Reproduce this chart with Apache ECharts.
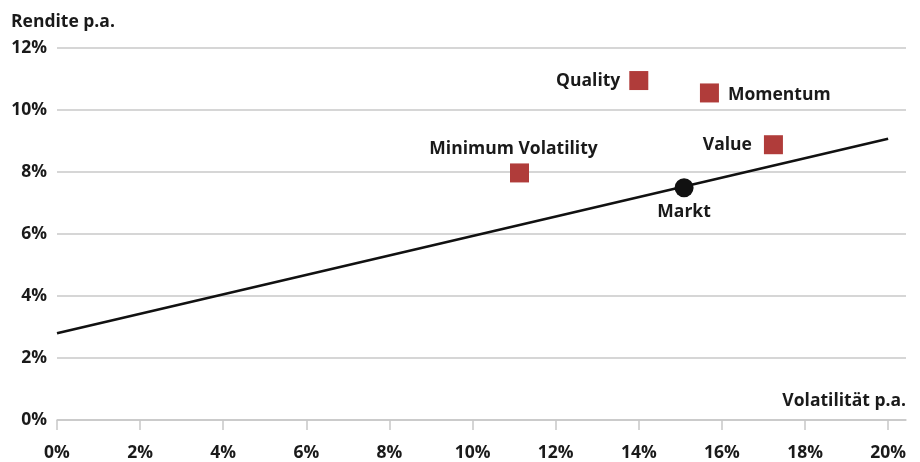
<!DOCTYPE html>
<html>
<head>
<meta charset="utf-8">
<script src="https://cdn.jsdelivr.net/npm/echarts@6/dist/echarts.min.js"></script>
<style>
  html, body { margin: 0; padding: 0; background: #fff; }
  #chart { width: 920px; height: 462px; }
</style>
</head>
<body>
<div id="chart"></div>
<script>
// Factor portfolios: volatility (x, % p.a.) and return (y, % p.a.)
const factorNames = ['Quality', 'Momentum', 'Value', 'Minimum Volatility'];
const factorVolatility = [14.0, 15.7, 17.24, 11.13];
const factorReturn = [10.95, 10.55, 8.88, 7.97];
const factorLabelPos = ['left', 'right', 'left', 'top'];

// Market portfolio and the capital market line
const marketName = 'Markt';
const marketPoint = [15.09, 7.49];
const lineVolatility = [0, 20];
const lineReturn = [2.8, 9.07];

const xTicks = [0, 2, 4, 6, 8, 10, 12, 14, 16, 18, 20];
const yTicks = [0, 2, 4, 6, 8, 10, 12];

const FONT = '"Open Sans", "Noto Sans", sans-serif';
const TEXT = '#1a1a1a';
const GRID = '#c8c8c8';
const RED = '#b03c3a';
const FS = 17.5;

const chart = echarts.init(document.getElementById('chart'), null, { renderer: 'canvas' });

// label placement tweaks per factor
const labelDistance = [9, 9, 12, 5];
const labelOffset = [[0, 0], [0, 2], [0, 0], [-6, 0]];

const factorData = factorNames.map((n, i) => ({
  name: n,
  value: [factorVolatility[i], factorReturn[i]],
  label: {
    position: factorLabelPos[i],
    distance: labelDistance[i],
    offset: labelOffset[i]
  }
}));

const labelStyle = { fontFamily: FONT, fontSize: FS, fontWeight: 700, color: TEXT };

chart.setOption({
  animation: false,
  textStyle: { fontFamily: FONT },
  title: {
    text: 'Rendite p.a.',
    left: 11,
    top: 13,
    padding: 0,
    textStyle: labelStyle
  },
  grid: { left: 57, right: 14, top: 48, bottom: 41.5, containLabel: false },
  xAxis: {
    type: 'value',
    min: 0,
    max: 20.43,
    interval: 2,
    name: 'Volatilität p.a.',
    nameLocation: 'end',
    nameGap: 0,
    nameTextStyle: Object.assign({}, labelStyle, {
      align: 'right', verticalAlign: 'bottom', padding: [0, 0, 10, 0]
    }),
    axisLine: { show: true, lineStyle: { color: GRID, width: 1.5 } },
    axisTick: { show: true, length: 10, customValues: xTicks, lineStyle: { color: GRID, width: 1.5 } },
    axisLabel: Object.assign({}, labelStyle, {
      customValues: xTicks,
      margin: 24,
      formatter: v => v + '%'
    }),
    splitLine: { show: false }
  },
  yAxis: {
    type: 'value',
    min: 0,
    max: 12,
    interval: 2,
    axisLine: { show: false },
    axisTick: { show: false },
    axisLabel: Object.assign({}, labelStyle, {
      margin: 10,
      formatter: v => v + '%'
    }),
    splitLine: { show: true, lineStyle: { color: GRID, width: 1.5 } }
  },
  series: [
    {
      type: 'line',
      data: lineVolatility.map((x, i) => [x, lineReturn[i]]),
      symbol: 'none',
      lineStyle: { color: '#111', width: 2.6 },
      z: 2
    },
    {
      type: 'scatter',
      data: [{ name: marketName, value: marketPoint }],
      symbol: 'circle',
      symbolSize: 19,
      itemStyle: { color: '#111', opacity: 1 },
      label: Object.assign({ show: true, position: 'bottom', distance: 6, formatter: '{b}' }, labelStyle),
      z: 3
    },
    {
      type: 'scatter',
      data: factorData,
      symbol: 'rect',
      symbolSize: 19,
      itemStyle: { color: RED, opacity: 1 },
      label: Object.assign({ show: true, formatter: '{b}' }, labelStyle),
      z: 3
    }
  ]
});
</script>
</body>
</html>
